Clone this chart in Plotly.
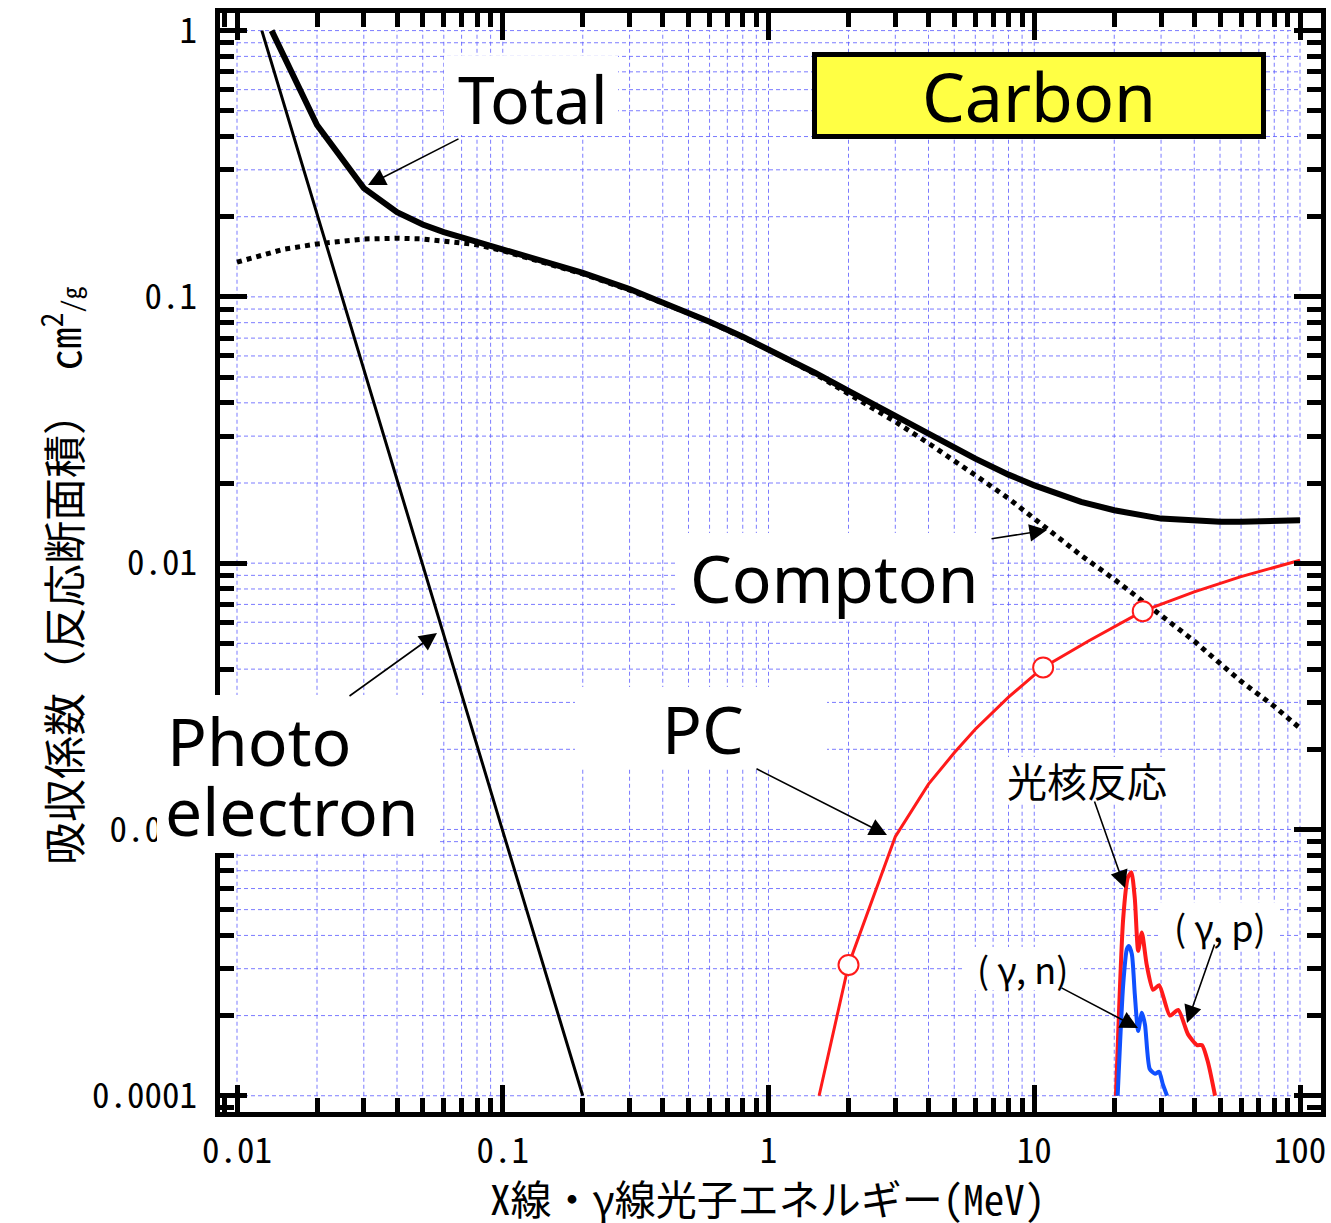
import numpy as np
import plotly.graph_objects as go

# ---- mass attenuation coefficients of carbon (cm^2/g) vs photon energy (MeV) ----
photo_energy = [0.0124, 0.02, 0.03, 0.05, 0.08, 0.1, 0.15, 0.2]
photo_mu = [1.0, 0.206, 0.0536, 0.00984, 0.00207, 0.000986, 0.000257, 0.0001]

total_energy = [0.0135, 0.015, 0.02, 0.03, 0.04, 0.05, 0.06, 0.08, 0.1, 0.15, 0.2, 0.3,
                0.4, 0.5, 0.6, 0.8, 1, 1.5, 2, 3, 4, 5, 6, 8, 10, 15, 20, 30, 40, 50,
                60, 80, 100]
total_mu = [1.0, 0.807, 0.442, 0.256, 0.208, 0.187, 0.175, 0.161, 0.151, 0.135, 0.123,
            0.107, 0.0955, 0.0872, 0.0806, 0.0708, 0.0636, 0.0518, 0.0444, 0.0356,
            0.0305, 0.0271, 0.0247, 0.0215, 0.0196, 0.0170, 0.0158, 0.0147, 0.0144,
            0.0143, 0.0143, 0.0144, 0.0145]

compton_energy = [0.01, 0.015, 0.02, 0.03, 0.04, 0.05, 0.06, 0.08, 0.1, 0.15, 0.2, 0.3,
                  0.4, 0.5, 0.6, 0.8, 1, 1.5, 2, 3, 4, 5, 6, 8, 10, 15, 20, 30, 40, 50,
                  60, 80, 100]
compton_mu = [0.135, 0.151, 0.158, 0.165, 0.166, 0.165, 0.162, 0.157, 0.149, 0.133,
              0.122, 0.106, 0.0952, 0.0869, 0.0804, 0.0706, 0.0634, 0.0513, 0.0434,
              0.0340, 0.0282, 0.0243, 0.0214, 0.0175, 0.0147, 0.0107, 0.0087, 0.0064,
              0.0051, 0.0042, 0.0036, 0.0029, 0.0024]

pair_energy = [1.55, 2.0, 3.0, 4.0, 5.0, 6.0, 8.0, 10.8, 16, 25.6, 40, 60, 100]
pair_mu = [1.0e-4, 3.1e-4, 9.4e-4, 0.00148, 0.00194, 0.00238, 0.00314, 0.00406,
           0.0051, 0.0066, 0.0078, 0.0089, 0.01026]
pair_marked = [1, 7, 9]  # points drawn with open circles

gp_energy = [20.3, 21.6, 22.5, 23.2, 23.9, 24.6, 25.4, 26.5, 28.0, 29.5, 32.4, 34.8,
             37.9, 41.0, 42.8, 45.1, 47.9]
gp_mu = [1.0e-4, 4.6e-4, 6.6e-4, 6.9e-4, 5.5e-4, 3.5e-4, 4.1e-4, 3.1e-4, 2.5e-4,
         2.6e-4, 2.0e-4, 2.1e-4, 1.7e-4, 1.55e-4, 1.55e-4, 1.33e-4, 1.0e-4]

gn_energy = [20.6, 21.6, 22.3, 22.7, 23.3, 23.9, 24.6, 25.4, 26.1, 27.2, 28.5, 29.5,
             30.5, 31.6]
gn_mu = [1.0e-4, 2.6e-4, 3.55e-4, 3.65e-4, 3.4e-4, 2.4e-4, 1.75e-4, 2.05e-4, 1.85e-4,
         1.26e-4, 1.21e-4, 1.23e-4, 1.1e-4, 1.0e-4]

x_tickvals = [0.01, 0.1, 1, 10, 100]
x_ticktext = ["0.01", "0.1", "1", "10", "100"]
y_tickvals = [1e-4, 1e-3, 1e-2, 1e-1, 1]
y_ticktext = ["0.0001", "0.001", "0.01", "0.1", "1"]

# ---- page geometry ----
W, H = 1331, 1223
L, R, T, B = 220, 1321, 13, 1112
XR = [-2.064, 2.079]
YR = [-4.061, 0.066]


def px(p):
    return (p - L) / (R - L)


def py(p):
    return 1 - (p - T) / (B - T)


TICK_FONT = "Noto Sans Mono CJK JP, Noto Sans CJK JP, Liberation Sans Narrow, sans-serif"
LABEL_FONT = "Noto Sans, Open Sans, sans-serif"
CJK_FONT = "Noto Sans CJK JP, sans-serif"

fig = go.Figure()

fig.add_trace(go.Scatter(x=photo_energy, y=photo_mu, mode="lines",
                         line=dict(color="black", width=3)))
fig.add_trace(go.Scatter(x=compton_energy, y=compton_mu, mode="lines",
                         line=dict(color="black", width=5, dash="dot")))
fig.add_trace(go.Scatter(x=total_energy, y=total_mu, mode="lines",
                         line=dict(color="black", width=6)))
fig.add_trace(go.Scatter(x=pair_energy, y=pair_mu, mode="lines",
                         line=dict(color="#ff1a1a", width=3)))
fig.add_trace(go.Scatter(x=[pair_energy[i] for i in pair_marked],
                         y=[pair_mu[i] for i in pair_marked], mode="markers",
                         marker=dict(size=20, color="white",
                                     line=dict(color="#ff1a1a", width=2))))
fig.add_trace(go.Scatter(x=gp_energy, y=gp_mu, mode="lines",
                         line=dict(color="#ff1a1a", width=4, shape="spline", smoothing=0.6)))
fig.add_trace(go.Scatter(x=gn_energy, y=gn_mu, mode="lines",
                         line=dict(color="#1050ff", width=4, shape="spline", smoothing=0.6)))

# ---- dashed grid confined to the decade range ----
shapes = []
grid_x = [m * 10.0 ** d for d in range(-2, 2) for m in range(1, 10)] + [100.0]
grid_y = [m * 10.0 ** d for d in range(-4, 0) for m in range(1, 10)] + [1.0]
grid_line = dict(color="rgba(90,90,255,0.8)", width=1, dash="4px,3px")
for gx in grid_x:
    shapes.append(dict(type="line", xref="x", yref="y", x0=gx, x1=gx, y0=1e-4, y1=1,
                       line=grid_line, layer="below"))
for gy in grid_y:
    shapes.append(dict(type="line", xref="x", yref="y", x0=0.01, x1=100, y0=gy, y1=gy,
                       line=grid_line, layer="below"))

# white panels behind the curve labels
label_boxes = [
    (444, 56, 618, 135),     # Total
    (677, 533, 990, 620),    # Compton
    (575, 687, 827, 767),    # PC
    (157, 695, 440, 853),    # Photo electron
    (995, 757, 1180, 802),   # 光核反応
    (965, 947, 1080, 990),   # (γ, n)
    (1160, 903, 1280, 950),  # (γ, p)
]
for x0, y0, x1, y1 in label_boxes:
    shapes.append(dict(type="rect", xref="paper", yref="paper",
                       x0=px(x0), x1=px(x1), y0=py(y1), y1=py(y0),
                       fillcolor="white", line=dict(width=0), layer="above"))

annotations = []


def label(text, cx, cy, size, font=LABEL_FONT, anchor="center"):
    annotations.append(dict(text=text, xref="paper", yref="paper", x=px(cx), y=py(cy),
                            xanchor=anchor, yanchor="middle", showarrow=False,
                            font=dict(family=font, size=size, color="black")))


label("Total", 533, 98, 66)
label("Compton", 834, 577, 66)
label("PC", 703, 728, 66)
label("Photo", 165, 740, 66, anchor="left")
label("electron", 163, 810, 66, anchor="left")
label("光核反応", 1087, 780, 40, font=CJK_FONT)
label("( γ, n)", 1022, 968, 36, font=CJK_FONT)
label("( γ, p)", 1220, 926, 36, font=CJK_FONT)

# element name panel
annotations.append(dict(text="Carbon", xref="paper", yref="paper", x=px(1039), y=py(95.5),
                        xanchor="center", yanchor="middle", showarrow=False,
                        width=444, height=77, bgcolor="#ffff44", bordercolor="black",
                        borderwidth=5, borderpad=0,
                        font=dict(family=LABEL_FONT, size=68, color="black")))


def arrow(lx, ly, ax, ay):
    annotations.append(dict(text="", x=lx, y=ly, xref="x", yref="y", ax=ax, ay=ay,
                            showarrow=True, arrowhead=2, arrowsize=2.2, arrowwidth=1.6,
                            arrowcolor="black"))


arrow(-1.5071, -0.5802, 92, -47)     # Total
arrow(1.0480, -1.8757, -57, 9)       # Compton
arrow(-1.2474, -2.2625, -89, 64)     # Photo electron
arrow(0.4459, -3.0210, -132, -67)    # PC
arrow(1.3414, -3.2201, -31, -88)     # 光核反応
arrow(1.3904, -3.7458, -78, -41)     # (γ, n)
arrow(1.5748, -3.7270, 28, -80)      # (γ, p)

# axis titles
annotations.append(dict(
    text="吸収係数（反応断面積）　cm<sup>2</sup><span style='font-size:26px'>/g</span>",
    xref="paper", yref="paper", x=0, y=py(576), xshift=60 - L, textangle=-90,
    xanchor="center", yanchor="middle", showarrow=False,
    font=dict(family=TICK_FONT, size=43, color="black")))
annotations.append(dict(
    text="X線・γ線光子エネルギー(MeV)", xref="paper", yref="paper", x=px(767), y=0,
    yshift=-(1197 - B), xanchor="center", yanchor="middle", showarrow=False,
    font=dict(family=TICK_FONT, size=41, color="black")))

minor_x = [m * 10.0 ** d for d in range(-3, 3) for m in range(2, 10)]
minor_y = [m * 10.0 ** d for d in range(-5, 1) for m in range(2, 10)]

axis_common = dict(
    type="log", showgrid=False, zeroline=False, showline=True, linewidth=5,
    linecolor="black", mirror="allticks", ticks="inside", ticklen=27, tickwidth=5,
    tickcolor="black", automargin=False,
    tickfont=dict(family=TICK_FONT, size=35, color="black"),
)

fig.update_layout(
    width=W, height=H, showlegend=False,
    margin=dict(l=L, r=W - R, t=T, b=H - B, autoexpand=False),
    paper_bgcolor="white", plot_bgcolor="white",
    xaxis=dict(range=XR, tickvals=x_tickvals, ticktext=x_ticktext, ticklabelstandoff=4,
               minor=dict(tickvals=minor_x, ticks="inside", ticklen=14, tickwidth=5,
                          tickcolor="black", showgrid=False),
               **axis_common),
    yaxis=dict(range=YR, tickvals=y_tickvals, ticktext=y_ticktext, ticklabelstandoff=11,
               minor=dict(tickvals=minor_y, ticks="inside", ticklen=14, tickwidth=5,
                          tickcolor="black", showgrid=False),
               **axis_common),
    shapes=shapes, annotations=annotations,
)

fig.write_html("out.html", config={"displayModeBar": False})
